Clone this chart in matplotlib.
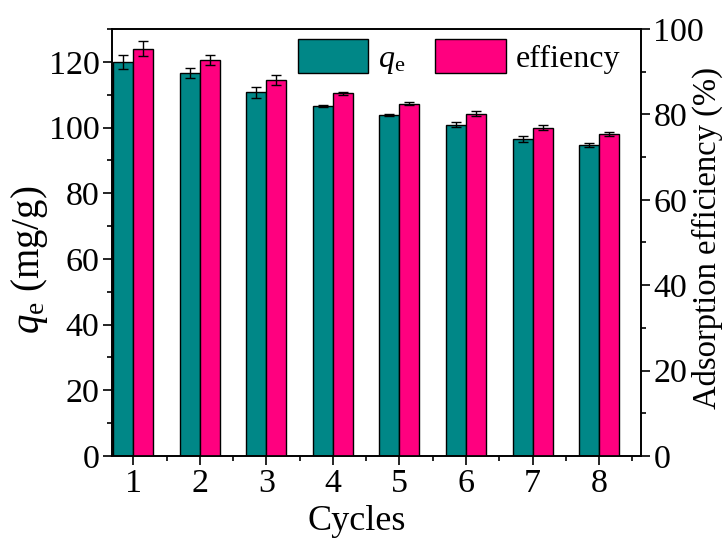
import numpy as np
import matplotlib.pyplot as plt
from matplotlib.ticker import MultipleLocator

plt.rcParams['font.family'] = ['Liberation Serif', 'DejaVu Serif']
plt.rcParams['mathtext.fontset'] = 'custom'
plt.rcParams['mathtext.rm'] = 'Liberation Serif'
plt.rcParams['mathtext.it'] = 'Liberation Serif:italic'

# data
cycles = [1, 2, 3, 4, 5, 6, 7, 8]
qe = [120.0, 116.6, 110.7, 106.6, 103.7, 100.9, 96.5, 94.7]
qe_err = [2.2, 1.5, 1.6, 0.3, 0.3, 0.7, 0.8, 0.5]
eff = [95.4, 92.7, 88.1, 84.9, 82.5, 80.2, 76.9, 75.4]
eff_err = [1.7, 1.2, 1.2, 0.3, 0.3, 0.5, 0.6, 0.5]

teal = '#008787'
pink = '#ff007f'
w = 0.3
fs = 24.5
W, H = 726, 540

fig = plt.figure(figsize=(7.26, 5.4), dpi=100)
ax1 = fig.add_axes([112 / W, 1 - 456 / H, 529 / W, 427 / H])
ax2 = ax1.twinx()

x = np.array(cycles)
ekw = dict(elinewidth=1, capthick=1, ecolor='black')
b1 = ax1.bar(x - w / 2, qe, w, color=teal, edgecolor='black', linewidth=1,
             yerr=qe_err, capsize=3.3, error_kw=ekw, label=r'$q_\mathrm{e}$')
b2 = ax2.bar(x + w / 2, eff, w, color=pink, edgecolor='black', linewidth=1,
             yerr=eff_err, capsize=3.3, error_kw=ekw, label='effiency')

ax1.set_xlim(0.68, 8.63)
ax1.set_ylim(0, 130)
ax2.set_ylim(0, 100)

ax1.set_xticks(cycles)
ax1.xaxis.set_minor_locator(MultipleLocator(0.5))
ax1.yaxis.set_major_locator(MultipleLocator(20))
ax1.yaxis.set_minor_locator(MultipleLocator(10))
ax2.yaxis.set_major_locator(MultipleLocator(20))
ax2.yaxis.set_minor_locator(MultipleLocator(10))

for ax in (ax1, ax2):
    ax.tick_params(which='major', length=6.5, width=1.2, labelsize=fs, pad=2.5)
    ax.tick_params(which='minor', length=3.6, width=1.2)
    for s in ax.spines.values():
        s.set_linewidth(1.2)

# axis titles placed where the reference has them
fig.text(357 / W, 1 - 530 / H, 'Cycles', fontsize=26, ha='center', va='baseline')
fig.text(29 / W, 1 - 260 / H, r'$q_\mathrm{e}$ (mg/g)', fontsize=28,
         rotation=90, ha='center', va='center')
fig.text(707 / W, 1 - 238 / H, 'Adsorption efficiency (%)', fontsize=23.5,
         rotation=90, ha='center', va='center')

ax1.legend(handles=[b1, b2], loc='upper left', ncol=2, fontsize=23, frameon=False,
           handlelength=2.2, handleheight=1.25, columnspacing=0.95, handletextpad=0.3,
           borderpad=0, borderaxespad=0,
           bbox_to_anchor=(298 / W, 1 - 39 / H), bbox_transform=fig.transFigure)

fig.savefig('out.png', dpi=100)
